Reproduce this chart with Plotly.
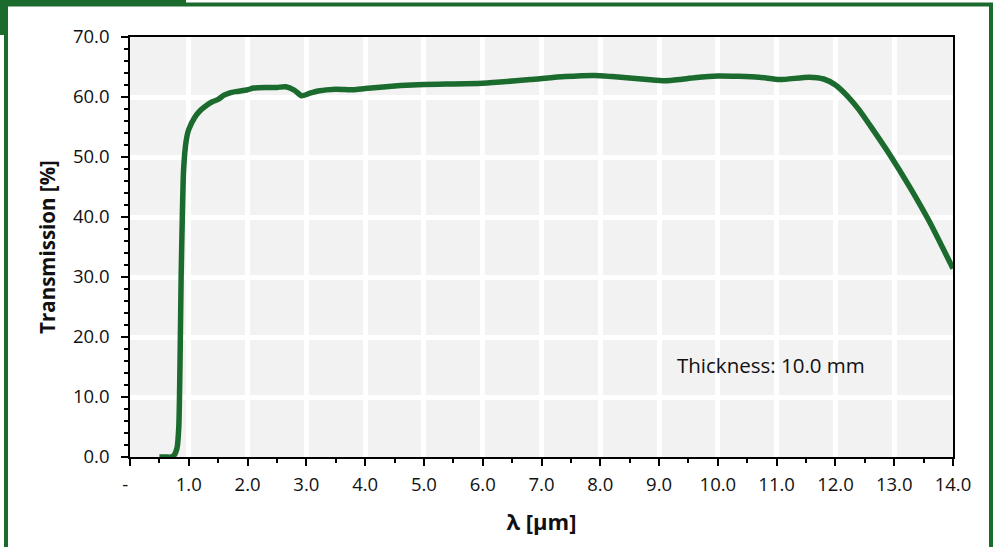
import plotly.graph_objects as go

# Data
wavelength_um = [0.5, 0.6, 0.7, 0.75, 0.8, 0.83, 0.85, 0.87, 0.89, 0.91, 0.94, 0.97, 1.0,
                 1.1, 1.2, 1.3, 1.4, 1.5, 1.6, 1.7, 1.8, 2.0, 2.1, 2.3, 2.5, 2.65, 2.8,
                 2.92, 3.05, 3.2, 3.5, 3.8, 4.0, 4.6, 5.0, 6.0, 6.8, 7.4, 7.9, 8.2, 8.8,
                 9.1, 9.35, 9.6, 10.0, 10.7, 11.05, 11.55, 11.8, 12.0, 12.2, 12.4,
                 12.6, 12.93, 13.27, 13.6, 14.0]
transmission_pct = [0.0, 0.0, 0.0, 0.3, 1.5, 5.0, 15.0, 30.0, 40.0, 47.5, 51.5, 53.5, 54.6,
                    56.6, 57.8, 58.6, 59.2, 59.6, 60.3, 60.7, 60.9, 61.2, 61.5, 61.6, 61.6,
                    61.7, 61.1, 60.2, 60.6, 61.0, 61.3, 61.2, 61.4, 61.9, 62.1, 62.3, 62.9,
                    63.4, 63.6, 63.4, 62.9, 62.7, 62.9, 63.2, 63.5, 63.3, 62.9, 63.3, 63.0,
                    62.0, 60.2, 57.9, 55.1, 50.3, 44.9, 39.2, 31.4]

x_tick_vals = list(range(0, 15))
x_tick_text = ["-\u00a0\u00a0"] + [f"{v:.1f}" for v in range(1, 15)]
y_tick_vals = list(range(0, 71, 10))
y_tick_text = [f"{v:.1f}" for v in y_tick_vals]

annotation_text = "Thickness: 10.0 mm"

GREEN = "#1a6b2d"
FONT = "Open Sans"
TXT = "#111111"

W, H = 995, 547
L, R, T, B = 130, 953, 37, 457


def px(x):
    return (x - L) / (R - L)


def py(y):
    return (B - y) / (B - T)


fig = go.Figure()
fig.add_trace(go.Scatter(
    x=wavelength_um, y=transmission_pct, mode="lines",
    line=dict(color=GREEN, width=5.5, shape="spline", smoothing=0.6),
    showlegend=False, hoverinfo="skip"))

fig.add_annotation(x=10.9, y=15.3, xref="x", yref="y", text=annotation_text,
                   showarrow=False, font=dict(family=FONT, size=20.5, color=TXT))

shapes = [
    # frame
    dict(type="rect", xref="paper", yref="paper", x0=px(6), x1=px(991), y0=py(4.5), y1=py(600),
         line=dict(color=GREEN, width=4), fillcolor="rgba(0,0,0,0)", layer="above"),
    # top-left tab
    dict(type="rect", xref="paper", yref="paper", x0=px(0), x1=px(186), y0=py(0), y1=py(6),
         line=dict(width=0), fillcolor=GREEN, layer="above"),
    dict(type="rect", xref="paper", yref="paper", x0=px(0), x1=px(8), y0=py(0), y1=py(35),
         line=dict(width=0), fillcolor=GREEN, layer="above"),
]

fig.update_layout(
    width=W, height=H,
    margin=dict(l=L, r=W - R, t=T, b=H - B, pad=0),
    paper_bgcolor="white", plot_bgcolor="#f2f2f2",
    font=dict(family=FONT, size=18, color=TXT),
    shapes=shapes,
)

fig.update_xaxes(
    range=[0, 14], tickvals=x_tick_vals, ticktext=x_tick_text,
    showgrid=True, gridcolor="white", gridwidth=5,
    showline=True, linecolor="black", linewidth=1.5, mirror=True,
    ticks="outside", ticklen=7, tickwidth=1.5, tickcolor="black",
    minor=dict(dtick=0.5, ticks="outside", ticklen=4, tickwidth=1.5, tickcolor="black", showgrid=False),
    tickfont=dict(family=FONT, size=18.5, color=TXT),
    ticklabelstandoff=3,
    zeroline=False,
    title=dict(text="<b>λ [µm]</b>", font=dict(family=FONT, size=22, color=TXT), standoff=20),
)
fig.update_yaxes(
    range=[0, 70], tickvals=y_tick_vals, ticktext=y_tick_text,
    showgrid=True, gridcolor="white", gridwidth=5,
    showline=True, linecolor="black", linewidth=1.5, mirror=True,
    ticks="outside", ticklen=7, tickwidth=1.5, tickcolor="black",
    minor=dict(dtick=2, ticks="outside", ticklen=4, tickwidth=1.5, tickcolor="black", showgrid=False),
    tickfont=dict(family=FONT, size=18.5, color=TXT),
    ticklabelstandoff=8,
    zeroline=False,
    title=dict(text="<b>Transmission [%]</b>", font=dict(family=FONT, size=20.5, color=TXT), standoff=12),
)

fig.write_html("out.html", config={"displayModeBar": False},
               post_script="document.body.style.margin='0';")
